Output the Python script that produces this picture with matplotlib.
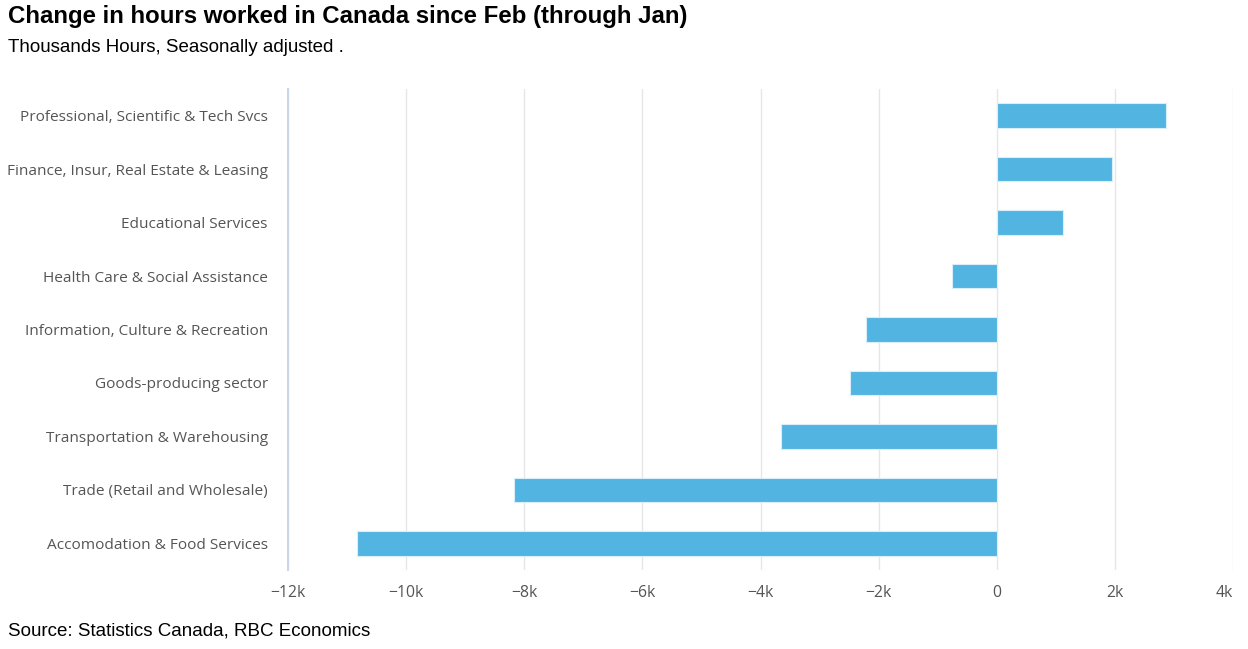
import matplotlib.pyplot as plt
from matplotlib.ticker import FuncFormatter

# categories, top to bottom as in the chart
categories = [
    "Professional, Scientific & Tech Svcs",
    "Finance, Insur, Real Estate & Leasing",
    "Educational Services",
    "Health Care & Social Assistance",
    "Information, Culture & Recreation",
    "Goods-producing sector",
    "Transportation & Warehousing",
    "Trade (Retail and Wholesale)",
    "Accomodation & Food Services",
]
# change in hours worked, thousands
values = [2870, 1950, 1120, -760, -2220, -2490, -3660, -8170, -10840]

x_ticks = [-12000, -10000, -8000, -6000, -4000, -2000, 0, 2000, 4000]

fig = plt.figure(figsize=(12.48, 6.49), dpi=100)
ax = fig.add_axes([288 / 1248, 1 - 570 / 649, (1233 - 288) / 1248, (570 - 89) / 649])

ypos = list(range(len(categories)))
ax.barh(ypos, values, height=0.46, color="#52b4e0", edgecolor="#d8eef8", linewidth=0.8, zorder=3)

ax.set_ylim(len(categories) - 0.5, -0.5)
ax.set_yticks(ypos)
ax.set_yticklabels(categories, fontsize=11.1, color="#555555", family="Open Sans")
ax.set_xlim(-12000, 4000)
ax.set_xticks(x_ticks)
ax.xaxis.set_major_formatter(FuncFormatter(lambda v, p: "0" if v == 0 else f"{v / 1000:g}k".replace("-", "\u2212")))
xlabs = ax.get_xticklabels()
for lab in xlabs:
    lab.set_family("Open Sans")
xlabs[-1].set_horizontalalignment("right")  # last label kept inside the plot, like the original
ax.tick_params(axis="x", labelsize=11.3, labelcolor="#555555", length=0, pad=11)
ax.tick_params(axis="y", length=0, pad=14.5)

ax.grid(axis="x", color="#e6e6e6", linewidth=1, zorder=0)
for s in ["top", "right", "bottom"]:
    ax.spines[s].set_visible(False)
ax.spines["left"].set_color("#ccd6eb")
ax.spines["left"].set_linewidth(1.5)

fig.text(8 / 1248, 1 - 17 / 649, "Change in hours worked in Canada since Feb (through Jan)",
         fontsize=17.3, fontweight="bold", family="Liberation Sans", va="center", ha="left")
fig.text(8 / 1248, 1 - 48 / 649, "Thousands Hours, Seasonally adjusted .",
         fontsize=13.5, family="Liberation Sans", va="center", ha="left")
fig.text(8 / 1248, 1 - 631 / 649, "Source: Statistics Canada, RBC Economics",
         fontsize=13.5, family="Liberation Sans", va="center", ha="left")

fig.savefig("out.png", dpi=100)
